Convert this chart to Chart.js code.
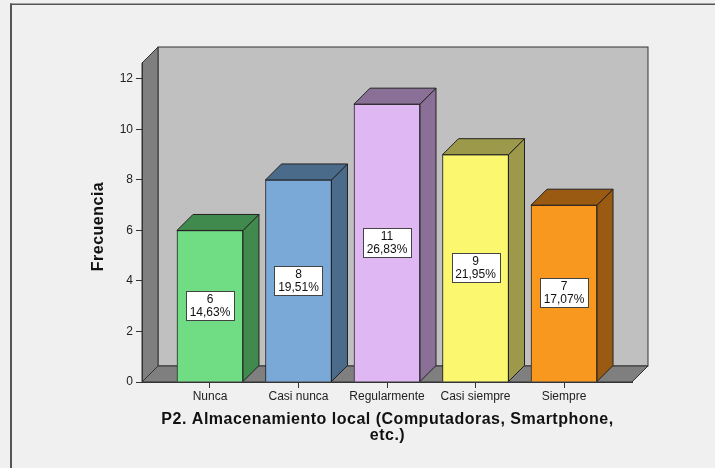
<!DOCTYPE html>
<html>
<head>
<meta charset="utf-8">
<script src="https://cdn.jsdelivr.net/npm/chart.js@4"></script>
<style>
  html, body { margin: 0; padding: 0; background: #f0f0f0; }
  canvas { display: block; }
</style>
</head>
<body>
<canvas id="chart" width="715" height="468"></canvas>
<script>
const categories = ['Nunca', 'Casi nunca', 'Regularmente', 'Casi siempre', 'Siempre'];
const counts = [6, 8, 11, 9, 7];
const percents = ['14,63%', '19,51%', '26,83%', '21,95%', '17,07%'];
const yTicks = [0, 2, 4, 6, 8, 10, 12];
const frontColors = ['#70dc84', '#7aa9d8', '#dfb8f3', '#fbf76f', '#f8981e'];
const sideColors = ['#408a4d', '#4a6b8a', '#8a7096', '#9c9a4a', '#9a5a12'];
const xTitle = ['P2. Almacenamiento local (Computadoras, Smartphone,', 'etc.)'];
const yTitle = 'Frecuencia';

const DX = 16, DY = 16; // profundidad del efecto 3D
const FONT = "'Liberation Sans', Arial, sans-serif";

function poly(ctx, pts, fill) {
  ctx.beginPath();
  ctx.moveTo(pts[0][0], pts[0][1]);
  for (let i = 1; i < pts.length; i++) ctx.lineTo(pts[i][0], pts[i][1]);
  ctx.closePath();
  ctx.fillStyle = fill;
  ctx.fill();
  ctx.stroke();
}

const box3d = {
  id: 'box3d',
  beforeDraw(chart) {
    const ctx = chart.ctx;
    const a = chart.chartArea;
    ctx.save();
    ctx.fillStyle = '#f0f0f0';
    ctx.fillRect(0, 0, chart.width, chart.height);
    // marco
    ctx.fillStyle = '#555';
    ctx.fillRect(10, 3.5, chart.width - 10, 1.5);
    ctx.fillRect(10, 3.5, 2, chart.height);
    ctx.strokeStyle = '#333';
    ctx.lineWidth = 1;
    // pared de fondo
    ctx.fillStyle = '#c0c0c0';
    ctx.fillRect(a.left + DX, a.top - DY, a.width, a.height);
    ctx.strokeRect(a.left + DX, a.top - DY, a.width, a.height);
    // pared izquierda
    poly(ctx, [[a.left, a.bottom], [a.left, a.top], [a.left + DX, a.top - DY], [a.left + DX, a.bottom - DY]], '#7f7f7f');
    // suelo
    poly(ctx, [[a.left, a.bottom], [a.right, a.bottom], [a.right + DX, a.bottom - DY], [a.left + DX, a.bottom - DY]], '#7f7f7f');
    ctx.restore();
  },
  afterDatasetsDraw(chart) {
    const ctx = chart.ctx;
    const meta = chart.getDatasetMeta(0);
    ctx.save();
    ctx.strokeStyle = '#222';
    ctx.lineWidth = 1;
    meta.data.forEach((bar, i) => {
      const l = bar.x - bar.width / 2, r = bar.x + bar.width / 2, t = bar.y, b = bar.base;
      poly(ctx, [[r, b], [r, t], [r + DX, t - DY], [r + DX, b - DY]], sideColors[i]);
      poly(ctx, [[l, t], [r, t], [r + DX, t - DY], [l + DX, t - DY]], sideColors[i]);
      // etiqueta
      const cy = Math.round((t + b) / 2);
      const bx = Math.round(bar.x) - 24;
      ctx.fillStyle = '#fff';
      ctx.fillRect(bx + 0.5, cy - 14.5, 48, 29);
      ctx.strokeStyle = '#444';
      ctx.strokeRect(bx + 0.5, cy - 14.5, 48, 29);
      ctx.strokeStyle = '#222';
      ctx.fillStyle = '#111';
      ctx.font = '12px ' + FONT;
      ctx.textAlign = 'center';
      ctx.textBaseline = 'middle';
      ctx.fillText(String(counts[i]), bar.x, cy - 6);
      ctx.fillText(percents[i], bar.x, cy + 7);
    });
    ctx.restore();
  },
  afterDraw(chart) {
    // titulos de ejes, algo espaciados como en SPSS
    const ctx = chart.ctx;
    const a = chart.chartArea;
    ctx.save();
    ctx.font = 'bold 16px ' + FONT;
    ctx.letterSpacing = '0.5px';
    ctx.fillStyle = '#111';
    ctx.textAlign = 'center';
    ctx.textBaseline = 'middle';
    const cx = (a.left + a.right) / 2 + 0.5;
    xTitle.forEach((line, i) => ctx.fillText(line, cx, 420 + i * 16));
    ctx.translate(99, 227);
    ctx.rotate(-Math.PI / 2);
    ctx.fillText(yTitle, 0.5, 0);
    ctx.restore();
  }
};

new Chart('chart', {
  type: 'bar',
  data: {
    datasets: [{
      data: counts.map((v, i) => ({ x: i, y: v })),
      backgroundColor: frontColors,
      borderColor: '#222',
      borderWidth: 1,
      barThickness: 66
    }]
  },
  options: {
    responsive: false,
    animation: false,
    layout: { padding: { top: 63, right: 83, left: 0, bottom: 0 } },
    plugins: { legend: { display: false }, tooltip: { enabled: false } },
    scales: {
      x: {
        type: 'linear',
        offset: false,
        min: -0.768,
        max: 4.768,
        afterBuildTicks: axis => { axis.ticks = categories.map((c, i) => ({ value: i })); },
        afterFit: s => { s.height = 86; },
        ticks: {
          callback: v => categories[v],
          font: { family: FONT, size: 12 },
          color: '#222',
          padding: 1,
          maxRotation: 0,
          autoSkip: false
        },
        grid: { offset: false, drawOnChartArea: false, drawTicks: true, tickLength: 6, color: '#333' },
        border: { display: true, color: '#333' }
      },
      y: {
        min: 0,
        max: 12.63,
        afterBuildTicks: axis => { axis.ticks = yTicks.map(v => ({ value: v })); },
        afterFit: s => { s.width = 142; },
        ticks: { font: { family: FONT, size: 12 }, color: '#222', padding: 3 },
        grid: { drawOnChartArea: false, drawTicks: true, tickLength: 6, color: '#333' },
        border: { display: true, color: '#333' }
      }
    }
  },
  plugins: [box3d]
});
</script>
</body>
</html>
